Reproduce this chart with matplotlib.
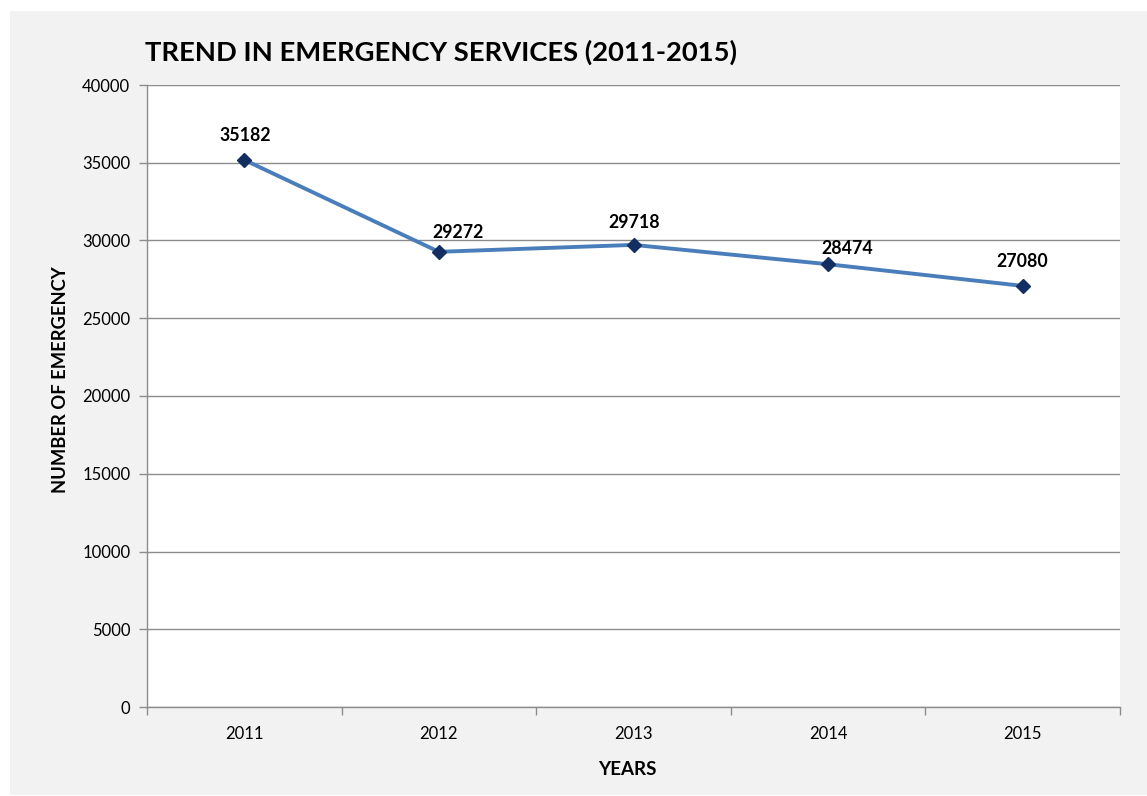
import matplotlib.pyplot as plt
from matplotlib.patches import Rectangle

years = ['2011', '2012', '2013', '2014', '2015']
emergencies = [35182, 29272, 29718, 28474, 27080]
y_ticks = [0, 5000, 10000, 15000, 20000, 25000, 30000, 35000, 40000]

# pixel offsets of the value labels (baseline) from their points
label_dx = [1, 19, 1, 19, 0]
label_dy = [19, 14, 17, 10, 19]

plt.rcParams['font.family'] = ['Lato', 'DejaVu Sans']

W, H = 1147, 796
fig = plt.figure(figsize=(W / 100, H / 100), dpi=100, facecolor='white')

# grey chart background, kept behind the axes
fig.patches.append(Rectangle((10 / W, 1 - 795 / H), (W - 10) / W, (795 - 11) / H,
                             transform=fig.transFigure, facecolor='#f2f2f2',
                             edgecolor='none', zorder=-10))

ax = fig.add_axes([147 / W, 1 - 707 / H, (1120 - 147) / W, (707 - 85) / H])
ax.set_facecolor('white')

x = range(len(years))
ax.plot(x, emergencies, color='#4a7ebb', lw=2.8, marker='D', markersize=7,
        markerfacecolor='#132f62', markeredgecolor='#132f62', zorder=3)

for xi, v, dx, dy in zip(x, emergencies, label_dx, label_dy):
    ax.annotate(str(v), (xi, v), xytext=(dx, dy), textcoords='offset pixels',
                ha='center', va='baseline', fontsize=12.8, fontweight='bold')

ax.set_xlim(-0.5, len(years) - 0.5)
ax.set_ylim(0, 40000)
ax.set_yticks(y_ticks)
ax.set_xticks(x)
ax.set_xticklabels(years)
ax.set_xticks([i - 0.5 for i in range(len(years) + 1)], minor=True)
ax.tick_params(axis='x', which='major', length=0, pad=14, labelsize=12)
ax.tick_params(axis='x', which='minor', length=6, color='#8c8c8c', width=1)
ax.tick_params(axis='y', length=6, color='#8c8c8c', width=1, pad=6, labelsize=12)

ax.grid(axis='y', color='#8c8c8c', lw=1)
ax.set_axisbelow(True)
for s in ['top', 'right']:
    ax.spines[s].set_visible(False)
for s in ['left', 'bottom']:
    ax.spines[s].set_color('#8c8c8c')
    ax.spines[s].set_linewidth(1)

ax.set_ylabel('NUMBER OF EMERGENCY', fontsize=13.2, fontweight='bold')
ax.yaxis.set_label_coords(-0.080, 0.526)
ax.set_xlabel('YEARS', fontsize=13.5, fontweight='bold')
ax.xaxis.set_label_coords(0.494, -0.087)
fig.text(145 / W, 1 - 52 / H, 'TREND IN EMERGENCY SERVICES (2011-2015)',
         fontsize=19.7, fontweight='bold', ha='left', va='center')

fig.savefig('out.png', dpi=100, facecolor='white')
